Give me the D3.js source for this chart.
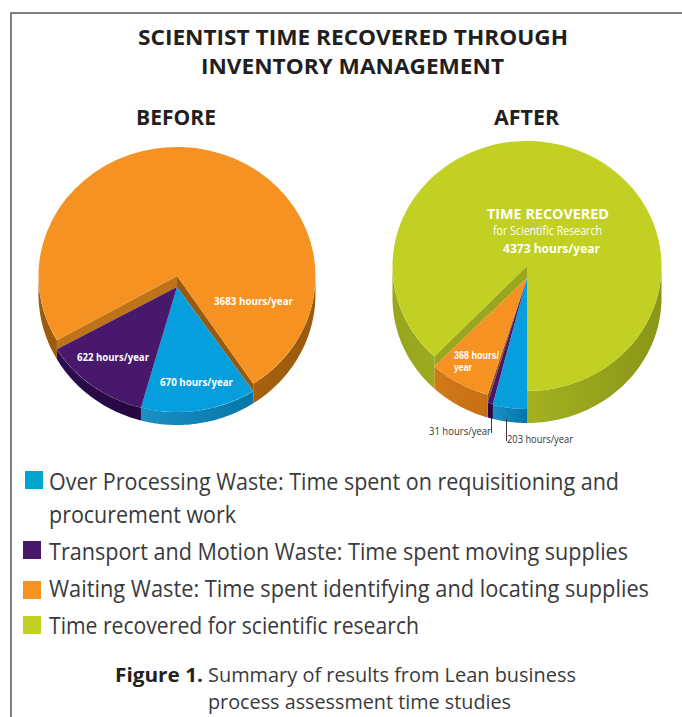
<!DOCTYPE html>
<html lang="en">
<head>
<meta charset="UTF-8">
<title>Scientist time recovered</title>
<script src="https://d3js.org/d3.v7.min.js"></script>
<style>
    html, body { margin: 0; padding: 0; background: #fff; }
    svg { display: block; }
    text { font-family: "Open Sans", "Noto Sans", sans-serif; }
</style>
</head>
<body>
<svg id="chart" width="682" height="717"></svg>
<script>
// values (hours/year)
const categories = ['Over Processing', 'Transport and Motion', 'Waiting', 'Time recovered'];
const beforeValues = [670, 622, 3683];
const afterValues = [203, 31, 368, 4373];
const legendLines = [
    'Over Processing Waste: Time spent on requisitioning and',
    'procurement work',
    'Transport and Motion Waste: Time spent moving supplies',
    'Waiting Waste: Time spent identifying and locating supplies',
    'Time recovered for scientific research'
];

const colour = d3.scaleOrdinal().domain(categories).range(['#069edd', '#47186b', '#f59222', '#c2d023']);
const wallColour = d3.scaleOrdinal().domain(categories).range([
    ['#1b8fc4', '#0576a8'], ['#2e0c50', '#240640'], ['#9a5a0c', '#b46c14', '#9a5a0c'], ['#98a61e', '#a3b121', '#8a9617']
]);

const svg = d3.select('#chart');
const defs = svg.append('defs');

// page frame
svg.append('path').attr('d', 'M682,13H11V717').attr('fill', 'none').attr('stroke', '#555').attr('stroke-width', 1.5);

// text fitted to the width it has in the picture
function label(x, y, str, width, size, weight, fill) {
    return svg.append('text').attr('x', x).attr('y', y)
        .attr('font-size', size).attr('font-weight', weight).attr('fill', fill)
        .attr('textLength', width).attr('lengthAdjust', 'spacingAndGlyphs')
        .text(str);
}

// one "cake": each slice has its own ellipse for top surface and bottom edge
function drawPie(opts) {
    const { id, cx, rx, values, names, start, levels, bottom, faces, wallAlt } = opts;
    const g = svg.append('g');
    const pie = d3.pie().sort(null).startAngle(start).endAngle(start + 2 * Math.PI);
    const arcs = pie(values);
    const px = a => cx + rx * Math.sin(a);
    const py = (a, e) => e.cy - e.ry * Math.cos(a);
    const line = d3.line();

    // outer wall, only the front half shows
    arcs.forEach((d, i) => {
        const name = names[i];
        const stops = (wallAlt && wallAlt[name]) || wallColour(name);
        const spans = [[d.startAngle, d.endAngle], [d.startAngle - 2 * Math.PI, d.endAngle - 2 * Math.PI]]
            .map(s => [Math.max(s[0], Math.PI / 2), Math.min(s[1], 3 * Math.PI / 2)])
            .filter(s => s[1] > s[0]);
        if (!spans.length) return;

        // gradient runs over the visible width of this slice
        const xs = spans.flatMap(s => [px(s[0]), px(s[1])]);
        const gid = `${id}-wall-${i}`;
        const grad = defs.append('linearGradient').attr('id', gid)
            .attr('gradientUnits', 'userSpaceOnUse')
            .attr('x1', d3.min(xs)).attr('x2', d3.max(xs)).attr('y1', 0).attr('y2', 0);
        stops.forEach((c, k) => {
            grad.append('stop').attr('offset', k / (stops.length - 1)).attr('stop-color', c);
        });

        spans.forEach(s => {
            const steps = d3.range(0, 41).map(k => s[0] + (s[1] - s[0]) * k / 40);
            const pts = steps.map(a => [px(a), py(a, levels[name])])
                .concat(steps.slice().reverse().map(a => [px(a), py(a, bottom)]));
            g.append('path').attr('d', line(pts) + 'Z').attr('fill', `url(#${gid})`);
        });
    });

    // cut faces where a slice stands higher than the next one
    arcs.forEach((d, i) => {
        if (!faces[i]) return;
        const a = d.endAngle;
        const e1 = levels[names[i]], e2 = levels[names[(i + 1) % names.length]];
        const pts = [[cx, e1.cy], [px(a), py(a, e1)], [px(a), py(a, e2)], [cx, e2.cy]];
        g.append('path').attr('d', line(pts) + 'Z').attr('fill', faces[i]);
    });

    // top surfaces, lowest first
    const arc = d3.arc().innerRadius(0).outerRadius(rx);
    const order = d3.range(arcs.length).sort((a, b) => levels[names[b]].cy - levels[names[a]].cy);
    order.forEach(i => {
        const e = levels[names[i]];
        g.append('path')
            .attr('transform', `translate(${cx},${e.cy}) scale(1,${e.ry / rx})`)
            .attr('d', arc(arcs[i]))
            .attr('fill', colour(names[i]));
    });
}

drawPie({
    id: 'before', cx: 177, rx: 138.5,
    values: beforeValues,
    names: categories.slice(0, 3),
    start: 146.6 * Math.PI / 180,
    levels: {
        'Over Processing': { cy: 287, ry: 125 },
        'Transport and Motion': { cy: 287, ry: 125 },
        'Waiting': { cy: 276, ry: 129 }
    },
    bottom: { cy: 294, ry: 131 },
    faces: [null, '#bf7318', '#965a0e']
});

drawPie({
    id: 'after', cx: 527, rx: 134.5,
    values: afterValues,
    names: categories,
    start: Math.PI,
    levels: {
        'Over Processing': { cy: 278, ry: 131 },
        'Transport and Motion': { cy: 278, ry: 130 },
        'Waiting': { cy: 278, ry: 122 },
        'Time recovered': { cy: 266, ry: 125 }
    },
    bottom: { cy: 298, ry: 125 },
    faces: ['#2a0a4a', '#8f5410', '#99a71f', null],
    wallAlt: { 'Waiting': ['#d07a18', '#c66f14'] }
});

// titles
label(138, 45, 'SCIENTIST TIME RECOVERED THROUGH', 430, 20.5, 700, '#231f20');
label(201, 74, 'INVENTORY MANAGEMENT', 303, 20.5, 700, '#231f20');
label(136, 125, 'BEFORE', 80, 20.5, 700, '#231f20');
label(494, 125, 'AFTER', 65, 20.5, 700, '#231f20');

// slice labels
const hrs = v => `${v} hours/year`;
label(214, 305, hrs(beforeValues[2]), 79, 11, 700, '#fff');
label(77, 361, hrs(beforeValues[1]), 72, 11, 700, '#fff');
label(160, 386, hrs(beforeValues[0]), 73, 11, 700, '#fff');

label(487, 219, 'TIME RECOVERED', 122, 15, 700, '#fff');
label(493, 235, 'for Scientific Research', 109, 12, 400, '#fff');
label(503, 253, hrs(afterValues[3]), 97, 13, 700, '#fff');

// tight line spacing here, Liberation has the shorter line box
label(454, 359, `${afterValues[2]} hours/`, 45, 10.2, 700, '#fff').style('font-family', '"Liberation Sans"');
label(454, 371, 'year', 18, 10.2, 700, '#fff').style('font-family', '"Liberation Sans"');

label(429, 435, hrs(afterValues[1]), 62, 10.5, 400, '#333');
label(507, 443, hrs(afterValues[0]), 66, 10.5, 400, '#333');

// leader lines
svg.append('path').attr('d', 'M491.5,418V433M506.5,419V441').attr('stroke', '#222').attr('stroke-width', 0.9).attr('fill', 'none');

// legend
const swatches = [
    { name: categories[0], x: 25, y: 471, w: 18, h: 18, fill: '#00a5cf' },
    { name: categories[1], x: 23, y: 541, w: 18, h: 18 },
    { name: categories[2], x: 23, y: 581, w: 18, h: 18 },
    { name: categories[3], x: 23, y: 616, w: 18, h: 18 }
];
swatches.forEach(s => {
    svg.append('rect').attr('x', s.x).attr('y', s.y).attr('width', s.w).attr('height', s.h)
        .attr('fill', s.fill || colour(s.name));
});
const legendY = [490, 523, 560, 597, 634];
const legendW = [570, 187, 579, 600, 370];
legendLines.forEach((t, i) => label(49, legendY[i], t, legendW[i], 23, 400, '#3a3a3c'));

// caption
label(115, 682, 'Figure 1.', 88, 20, 700, '#231f20');
label(208, 682, 'Summary of results from Lean business', 368, 20, 400, '#3a3a3c');
label(208, 709, 'process assessment time studies', 303, 20, 400, '#3a3a3c');
</script>
</body>
</html>
